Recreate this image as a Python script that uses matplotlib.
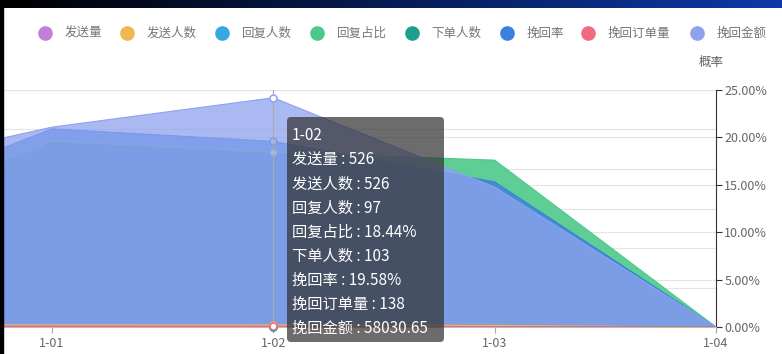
import numpy as np
import matplotlib
matplotlib.use('Agg')
import matplotlib.pyplot as plt
from matplotlib.lines import Line2D
from matplotlib.patches import Rectangle, FancyBboxPatch
from matplotlib.transforms import blended_transform_factory
from matplotlib.ticker import FuncFormatter

plt.rcParams['font.family'] = ['Noto Sans CJK SC', 'DejaVu Sans']

# ********************************* data *********************************
dates = ['12-31', '1-01', '1-02', '1-03', '1-04']
send_cnt = [610, 575, 526, 402, 0]            # 发送量
send_user = [610, 575, 526, 402, 0]           # 发送人数
reply_user = [112, 106, 97, 70, 0]            # 回复人数
reply_rate = [10.2, 19.6, 18.44, 17.6, 0]     # 回复占比 (%)
order_user = [95, 118, 103, 60, 0]            # 下单人数
recover_rate = [11.8, 20.9, 19.58, 15.3, 0]   # 挽回率 (%)
recover_orders = [120, 150, 138, 85, 0]       # 挽回订单量
recover_amount = [38200, 50600, 58030.65, 35400, 0]  # 挽回金额

names = ['发送量', '发送人数', '回复人数', '回复占比', '下单人数', '挽回率', '挽回订单量', '挽回金额']
colors = ['#c27fd8', '#f0b64f', '#37a7e0', '#4cc98a', '#1f9e8e', '#3a80de', '#f06a82', '#8ea2ee']
rate_ticks = [0, 5, 10, 15, 20, 25]
amount_ticks = [0, 10000, 20000, 30000, 40000, 50000, 60000]
hover = 2  # index of 1-02

W, H = 782, 354
fig = plt.figure(figsize=(W / 100, H / 100), dpi=100)
fig.patch.set_facecolor('white')

# right axis (percent) underneath, left axis (counts / amount) on top
ax_r = fig.add_axes([3 / W, 1 - 327 / H, (716 - 3) / W, (327 - 90) / H])
ax_l = ax_r.twinx()
ax_r.yaxis.tick_right()

x = np.arange(len(dates))
series = [
    (send_cnt, ax_l, 0.6),
    (send_user, ax_l, 0.6),
    (reply_user, ax_l, 0.6),
    (reply_rate, ax_r, 0.9),
    (order_user, ax_l, 0.6),
    (recover_rate, ax_r, 0.8),
    (recover_orders, ax_l, 0.6),
    (recover_amount, ax_l, 0.75),
]
for (vals, a, alp), c in zip(series, colors):
    a.fill_between(x, vals, color=c, alpha=alp, lw=0, zorder=1)
    a.plot(x, vals, color=c, lw=0.8, zorder=2)

# hover pointer + symbols
ax_l.axvline(hover, color='#aaaaaa', lw=0.8, zorder=3)
for (vals, a, alp), c in zip(series, colors):
    a.plot(hover, vals[hover], 'o', ms=5, mfc='white', mec=c, mew=1.1, zorder=5, clip_on=False)

# grids
ax_r.set_axisbelow(True)
ax_r.grid(axis='y', color='#e4e4e4', lw=0.8)
ax_r.grid(axis='x', visible=False)
trf = blended_transform_factory(ax_r.transAxes, ax_l.transData)
for v in amount_ticks[1:]:
    ax_r.plot([0, 1], [v, v], transform=trf, color='#e4e4e4', lw=0.8, zorder=0.5)

ax_r.set_xticks(x)
ax_r.set_xticklabels(dates)
ax_r.set_yticks(rate_ticks)
ax_r.set_xlim(4 - 713 / 221.3, 4)
ax_r.set_ylim(0, 25)
ax_l.set_ylim(0, 60000)

ax_r.yaxis.set_major_formatter(FuncFormatter(lambda v, p: '%.2f%%' % v))
ax_r.tick_params(axis='y', right=True, left=False, labelright=True, labelleft=False,
                 length=4, width=0.8, color='#333333', labelcolor='#666666', labelsize=9, pad=2)
ax_r.tick_params(axis='x', length=4, width=0.8, color='#aaaaaa', labelcolor='#666666', labelsize=9, pad=3)
for s in ['top', 'left']:
    ax_r.spines[s].set_visible(False)
ax_r.spines['right'].set_color('#333333')
ax_r.spines['right'].set_linewidth(0.8)
ax_r.spines['bottom'].set_color('#bbbbbb')

ax_l.set_yticks([])
for s in ax_l.spines.values():
    s.set_visible(False)

fig.text(711 / W, 1 - 62 / H, '概率', ha='center', va='center', fontsize=9, color='#666666')

# legend
lx = 45
ly = 1 - 33 / H
for name, c in zip(names, colors):
    fig.add_artist(Line2D([lx / W], [ly], transform=fig.transFigure, marker='o', ms=9.5,
                          color=c, ls='none'))
    fig.text((lx + 20) / W, ly, name, fontsize=9, color='#777777', va='center', ha='left')
    lx += 13.5 * len(name) + 41

# tooltip
tip = FancyBboxPatch((287 / 100, (H - 342) / 100), 157 / 100, 225 / 100,
                     boxstyle='round,pad=0,rounding_size=0.04', transform=fig.dpi_scale_trans,
                     facecolor=(0.2, 0.2, 0.2, 0.72), edgecolor='none', zorder=8)
fig.add_artist(tip)
lines = [dates[hover]]
for name, (vals, a, alp) in zip(names, series):
    v = vals[hover]
    if a is ax_r:
        lines.append('%s : %.2f%%' % (name, v))
    elif isinstance(v, float):
        lines.append('%s : %.2f' % (name, v))
    else:
        lines.append('%s : %d' % (name, v))
for i, s in enumerate(lines):
    fig.text(292 / W, 1 - (136 + 24 * i) / H, s, color='white', fontsize=11,
             va='center', ha='left', zorder=9)

# dark frame: top gradient bar and left strip
gax = fig.add_axes([0, 1 - 8 / H, 1, 8 / H])
grad = np.linspace(0, 1, 256)[None, :, None] * np.array([13, 56, 168])[None, None, :] / 255.0
gax.imshow(grad, aspect='auto', extent=[0, 1, 0, 1])
gax.axis('off')
fig.add_artist(Rectangle((0, 0), 3 / W, 1, transform=fig.transFigure, color='black', zorder=10))

fig.savefig('out.png', dpi=100)
